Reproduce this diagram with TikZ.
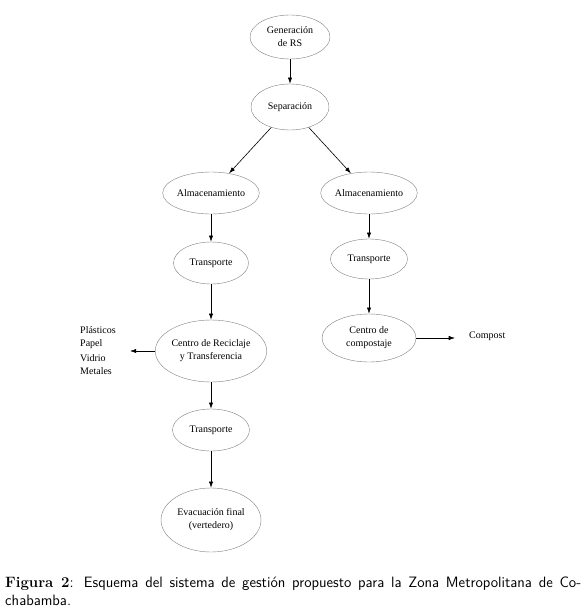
\documentclass[tikz,border=0pt]{standalone}
\usepackage{fontspec}
\newfontfamily\diagfont{Liberation Serif}
\usetikzlibrary{shapes.geometric,arrows.meta,positioning}

\begin{document}
\begin{tikzpicture}[
  x=1pt, y=-1pt,
  font=\diagfont\fontsize{10}{13}\selectfont,
  stage/.style={draw=black!50, ellipse, align=center, inner sep=0pt},
  arr/.style={-{Latex[length=2.2mm, width=1.5mm]}, semithick},
  lab/.style={align=left, inner sep=1pt}
]
\useasboundingbox (0,0) rectangle (587,615);
\node[stage, minimum width=80pt, minimum height=44pt] (gen) at (290,37) {Generación\\ de RS};
\node[stage, minimum width=78pt, minimum height=46pt] (sep) at (290,107) {Separación};
\node[stage, minimum width=92pt, minimum height=42pt] (almA) at (211,193) {Almacenamiento};
\node[stage, minimum width=94pt, minimum height=42pt] (almB) at (369,193) {Almacenamiento};
\node[stage, minimum width=75pt, minimum height=42pt] (traA) at (211,263) {Transporte};
\node[stage, minimum width=77pt, minimum height=40pt] (traB) at (369,259) {Transporte};
\node[stage, minimum width=102pt, minimum height=62pt] (recic) at (211,351) {Centro de Reciclaje\\ y Transferencia};
\node[stage, minimum width=94pt, minimum height=48pt] (compo) at (369,338) {Centro de\\ compostaje};
\node[stage, minimum width=77pt, minimum height=42pt] (traC) at (211,430) {Transporte};
\node[stage, minimum width=100pt, minimum height=64pt] (evac) at (211,520) {Evacuación final\\ (vertedero)};
\node[lab, anchor=west] (mater) at (79,351) {Plásticos\\ Papel\\[2pt] Vidrio\\ Metales};
\node[lab, anchor=west] (compost) at (468,336) {Compost};
\node[anchor=north west, text width=576pt, align=justify, inner sep=0pt,
      font=\sffamily\fontsize{15}{18}\selectfont] (caption) at (5,577)
  {{\rmfamily\bfseries Figura 2}: Esquema del sistema de gestión propuesto para la Zona Metropolitana de Co-\linebreak chabamba.};
\draw[arr] (gen) -- (sep);
\draw[arr] (sep) -- (almA);
\draw[arr] (sep) -- (almB);
\draw[arr] (almA) -- (traA);
\draw[arr] (traA) -- (recic);
\draw[arr] (recic) -- (traC);
\draw[arr] (traC) -- (evac);
\draw[arr] (almB) -- (traB);
\draw[arr] (traB) -- (compo);
\draw[arr, shorten >=13pt] (recic.west) -- (recic.west -| mater.east);
\draw[arr, shorten >=13pt] (compo.east) -- (compo.east -| compost.west);
\end{tikzpicture}
\end{document}
